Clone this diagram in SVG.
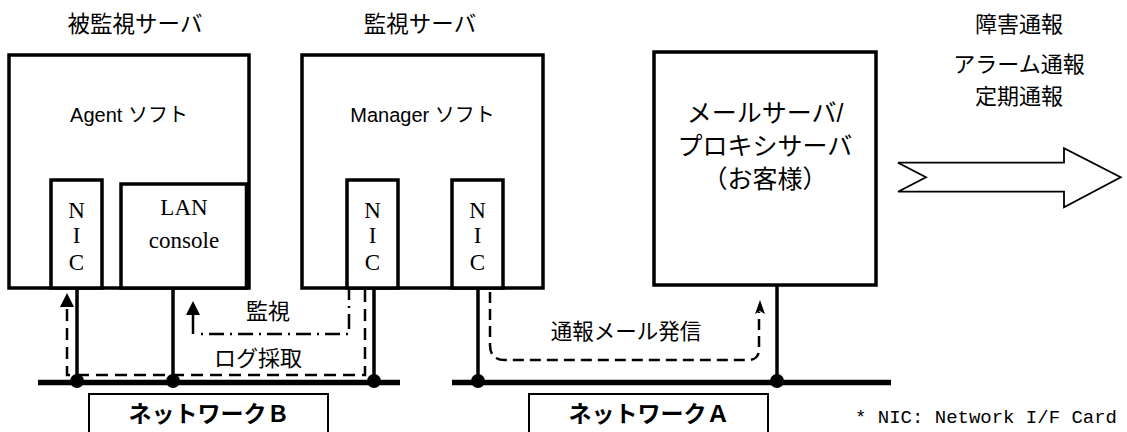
<svg xmlns="http://www.w3.org/2000/svg" width="1127" height="432" viewBox="0 0 1127 432">
<style>
.box{fill:#fff;stroke:#000;stroke-width:3.5}
.nic{fill:#fff;stroke:#000;stroke-width:3.5}
.lbl{fill:#fff;stroke:#000;stroke-width:2}
.jp{font-family:"Liberation Sans","Noto Sans CJK JP",sans-serif;fill:#000}
.serif{font-family:"Liberation Serif","Noto Serif CJK JP",serif;font-size:23px;fill:#000}
.wire{stroke:#000;stroke-width:3.5;fill:none}
.net{stroke:#000;stroke-width:5.5;fill:none}
.dash{stroke:#000;stroke-width:2.5;fill:none}
</style>
<rect width="1127" height="432" fill="#fff"/>
<g id="connectors">
<line class="net" x1="38" y1="382.5" x2="400" y2="382.5"/>
<line class="net" x1="452" y1="382.5" x2="891" y2="382.5"/>
<line class="wire" x1="77" y1="288" x2="77" y2="381"/>
<line class="wire" x1="173" y1="288" x2="173" y2="381"/>
<line class="wire" x1="374" y1="288" x2="374" y2="381"/>
<line class="wire" x1="478" y1="288" x2="478" y2="381"/>
<line class="wire" x1="777" y1="285" x2="777" y2="381"/>
<circle cx="77" cy="381" r="7"/>
<circle cx="173" cy="381" r="7"/>
<circle cx="374" cy="381" r="7"/>
<circle cx="478" cy="381" r="7"/>
<circle cx="777" cy="381" r="7"/>
<path class="dash" d="M365,290 V375 H67 V306" stroke-dasharray="12 7"/>
<polygon points="67,293 60,307 74,307"/>
<line class="dash" x1="193" y1="313" x2="193" y2="334"/>
<path class="dash" d="M201,334 H349 V290" stroke-dasharray="2 6 15 6"/>
<polygon points="193,301 186,315 200,315"/>
<path class="dash" d="M490,292 V345 Q490,360 505,360 H748 Q759,360 759,349 V312" stroke-dasharray="11 6"/>
<path d="M760,300 L765,314 L760,311 L755,314 Z"/>
<text class="jp" x="258" y="366" font-size="22" text-anchor="middle">ログ採取</text>
<text class="jp" x="268" y="319" font-size="22" text-anchor="middle">監視</text>
<text class="jp" x="626" y="339" font-size="21.5" text-anchor="middle">通報メール発信</text>
</g>
<g id="monitored-server">
<rect class="box" x="9" y="55" width="240" height="233"/>
<text class="jp" x="135" y="32" font-size="22.5" text-anchor="middle">被監視サーバ</text>
<text class="jp" x="129" y="122" font-size="20" text-anchor="middle">Agent ソフト</text>
</g>
<g id="nic1">
<rect class="nic" x="51" y="180" width="51" height="108"/>
<text class="serif" x="76.5" y="218" text-anchor="middle">N</text>
<text class="serif" x="76.5" y="243" text-anchor="middle">I</text>
<text class="serif" x="76.5" y="270" text-anchor="middle">C</text>
</g>
<g id="lan-console">
<rect class="nic" x="121" y="184" width="125.5" height="104"/>
<text class="serif" x="184" y="215" text-anchor="middle">LAN</text>
<text class="serif" x="184" y="248" text-anchor="middle">console</text>
</g>
<g id="monitoring-server">
<rect class="box" x="302" y="55" width="241" height="233"/>
<text class="jp" x="420" y="32" font-size="22.5" text-anchor="middle">監視サーバ</text>
<text class="jp" x="422.5" y="122" font-size="20" text-anchor="middle">Manager ソフト</text>
</g>
<g id="nic2">
<rect class="nic" x="347" y="180" width="51" height="108"/>
<text class="serif" x="372.5" y="218" text-anchor="middle">N</text>
<text class="serif" x="372.5" y="243" text-anchor="middle">I</text>
<text class="serif" x="372.5" y="270" text-anchor="middle">C</text>
</g>
<g id="nic3">
<rect class="nic" x="452" y="180" width="51" height="108"/>
<text class="serif" x="477.5" y="218" text-anchor="middle">N</text>
<text class="serif" x="477.5" y="243" text-anchor="middle">I</text>
<text class="serif" x="477.5" y="270" text-anchor="middle">C</text>
</g>
<g id="mail-server">
<rect class="box" x="654" y="52" width="222" height="233"/>
<text class="jp" x="765" y="122" font-size="25" text-anchor="middle">メールサーバ/</text>
<text class="jp" x="765" y="155" font-size="25" text-anchor="middle">プロキシサーバ</text>
<text class="jp" x="765" y="188" font-size="25" text-anchor="middle">（お客様）</text>
</g>
<g id="notification">
<polygon points="898,162.7 1064,162.7 1064,148.3 1120.7,177.3 1064,207.3 1064,191.7 898,191.7 926,177.3" fill="#fff" stroke="#000" stroke-width="1.8" stroke-linejoin="miter"/>
<text class="jp" x="1019" y="32" font-size="22" text-anchor="middle">障害通報</text>
<text class="jp" x="1019" y="72" font-size="22" text-anchor="middle">アラーム通報</text>
<text class="jp" x="1019" y="104" font-size="22" text-anchor="middle">定期通報</text>
</g>
<g id="network-b">
<rect class="lbl" x="89" y="394" width="239" height="50"/>
<text class="jp" x="209" y="422" font-size="23" font-weight="bold" text-anchor="middle">ネットワークＢ</text>
</g>
<g id="network-a">
<rect class="lbl" x="529" y="394" width="239" height="50"/>
<text class="jp" x="649" y="422" font-size="23" font-weight="bold" text-anchor="middle">ネットワークＡ</text>
</g>
<g id="footnote">
<text x="855" y="423" font-family="Liberation Mono, monospace" font-size="19" textLength="262" lengthAdjust="spacingAndGlyphs">* NIC: Network I/F Card</text>
</g>
</svg>
